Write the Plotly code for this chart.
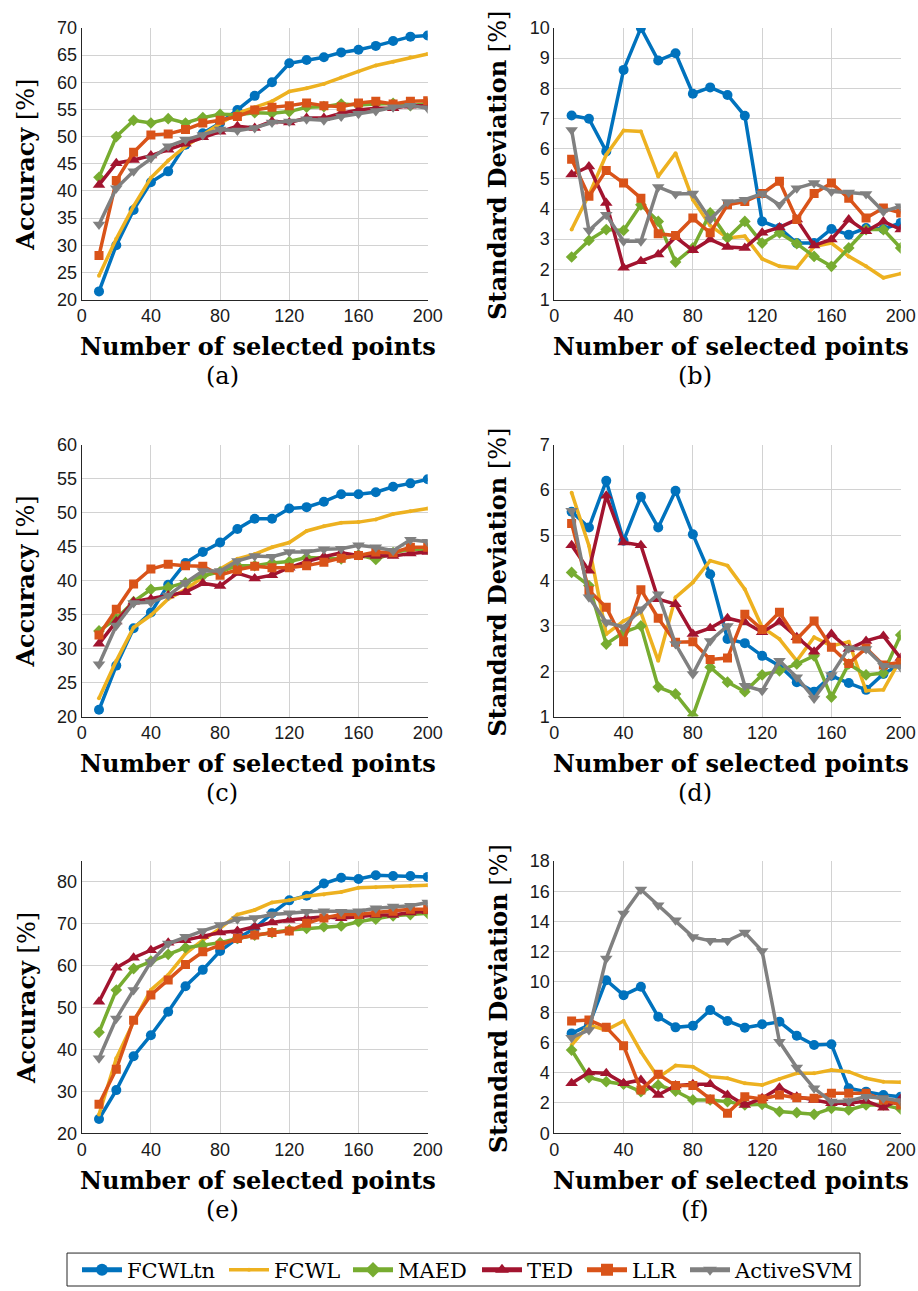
import plotly.graph_objects as go

# ---------------- data ----------------
X_POINTS = [10, 20, 30, 40, 50, 60, 70, 80, 90, 100,
            110, 120, 130, 140, 150, 160, 170, 180, 190, 200]

METHODS = ["FCWLtn", "FCWL", "MAED", "TED", "LLR", "ActiveSVM"]

# (a) accuracy
A_FCWLTN = [21.5, 30.0, 36.5, 41.6, 43.6, 48.5, 50.6, 52.5, 54.9, 57.5, 60.0, 63.5, 64.1, 64.6, 65.5, 66.0, 66.7, 67.6, 68.4, 68.6]
A_FCWL = [24.4, 31.2, 37.2, 42.4, 45.6, 48.2, 50.3, 52.4, 54.3, 55.4, 56.5, 58.3, 58.9, 59.7, 60.9, 62.0, 63.1, 63.8, 64.6, 65.2]
A_MAED = [42.5, 50.0, 53.0, 52.5, 53.3, 52.5, 53.5, 54.1, 54.0, 54.4, 54.3, 54.6, 55.4, 55.5, 56.0, 55.8, 56.0, 56.1, 55.7, 56.1]
A_TED = [41.1, 45.1, 45.7, 46.5, 47.6, 48.7, 49.9, 50.9, 51.9, 51.6, 52.8, 52.6, 53.4, 53.4, 54.3, 54.9, 55.2, 55.2, 55.7, 55.7]
A_LLR = [28.1, 41.9, 47.1, 50.3, 50.5, 51.3, 52.5, 53.0, 53.7, 54.9, 55.4, 55.7, 56.2, 55.7, 55.5, 56.2, 56.5, 56.0, 56.5, 56.6]
A_ASVM = [33.8, 40.5, 43.6, 46.0, 48.2, 49.4, 50.3, 51.3, 51.1, 51.6, 52.6, 52.8, 53.2, 53.0, 53.7, 54.2, 54.7, 55.4, 55.7, 55.2]

# (b) standard deviation
B_FCWLTN = [7.10, 6.99, 5.91, 8.61, 10.0, 8.92, 9.16, 7.82, 8.03, 7.78, 7.09, 3.59, 3.37, 2.87, 2.87, 3.34, 3.15, 3.37, 3.34, 3.54]
B_FCWL = [3.32, 4.47, 5.80, 6.60, 6.57, 5.08, 5.85, 4.31, 3.45, 3.04, 3.10, 2.35, 2.10, 2.05, 2.76, 2.87, 2.43, 2.10, 1.72, 1.86]
B_MAED = [2.41, 2.96, 3.32, 3.29, 4.14, 3.59, 2.24, 2.71, 3.87, 3.04, 3.59, 2.87, 3.21, 2.85, 2.43, 2.10, 2.71, 3.32, 3.32, 2.71]
B_TED = [5.14, 5.41, 4.20, 2.05, 2.27, 2.49, 3.07, 2.63, 2.99, 2.74, 2.71, 3.21, 3.39, 3.65, 2.79, 2.99, 3.65, 3.26, 3.59, 3.32]
B_LLR = [5.65, 4.42, 5.28, 4.86, 4.36, 3.18, 3.12, 3.70, 3.21, 4.14, 4.25, 4.51, 4.92, 3.65, 4.51, 4.86, 4.36, 3.70, 4.03, 3.87]
B_ASVM = [6.62, 3.29, 3.81, 2.93, 2.93, 4.73, 4.50, 4.51, 3.65, 4.23, 4.31, 4.51, 4.14, 4.69, 4.86, 4.58, 4.55, 4.50, 3.92, 4.09]

# (c) accuracy
C_FCWLTN = [21.0, 27.5, 33.0, 35.3, 39.4, 42.6, 44.2, 45.6, 47.6, 49.1, 49.1, 50.6, 50.8, 51.6, 52.7, 52.7, 53.0, 53.8, 54.3, 54.9]
C_FCWL = [22.7, 28.2, 33.1, 34.9, 37.3, 38.7, 40.5, 41.7, 43.2, 43.9, 44.9, 45.6, 47.3, 48.0, 48.5, 48.6, 49.0, 49.8, 50.2, 50.6]
C_MAED = [32.6, 34.4, 36.9, 38.7, 39.0, 39.7, 40.7, 41.3, 42.2, 42.2, 42.6, 42.8, 43.4, 43.3, 43.2, 43.8, 43.1, 44.1, 44.6, 44.6]
C_TED = [30.7, 34.0, 36.9, 37.3, 37.8, 38.3, 39.6, 39.2, 41.1, 40.3, 40.8, 41.9, 42.8, 43.5, 44.1, 43.7, 43.6, 43.6, 44.0, 44.2]
C_LLR = [32.0, 35.8, 39.5, 41.7, 42.4, 42.2, 42.1, 40.8, 41.6, 42.1, 41.9, 41.9, 42.2, 42.7, 43.3, 43.7, 44.2, 44.1, 44.9, 44.9]
C_ASVM = [27.7, 33.4, 36.7, 36.8, 37.8, 39.7, 41.4, 41.4, 42.9, 43.6, 43.5, 44.2, 44.2, 44.6, 44.7, 45.2, 44.9, 44.4, 46.0, 45.7]

# (d) standard deviation
D_FCWLTN = [5.52, 5.17, 6.20, 4.88, 5.85, 5.17, 5.98, 5.02, 4.14, 2.71, 2.62, 2.34, 2.12, 1.76, 1.55, 1.90, 1.74, 1.59, 1.94, 2.16]
D_FCWL = [5.94, 4.77, 2.82, 3.11, 3.30, 2.23, 3.63, 3.96, 4.44, 4.33, 3.81, 2.97, 2.71, 2.23, 2.75, 2.56, 2.65, 1.57, 1.59, 2.27]
D_MAED = [4.18, 3.89, 2.60, 2.86, 3.00, 1.65, 1.50, 1.02, 2.09, 1.76, 1.55, 1.92, 2.01, 2.16, 2.34, 1.43, 2.16, 1.92, 1.96, 2.80]
D_TED = [4.78, 4.22, 5.87, 4.84, 4.78, 3.59, 3.48, 2.82, 2.95, 3.17, 3.08, 2.86, 3.09, 2.75, 2.43, 2.82, 2.49, 2.67, 2.78, 2.29]
D_LLR = [5.26, 3.78, 3.41, 2.65, 3.80, 3.17, 2.64, 2.65, 2.26, 2.29, 3.26, 2.92, 3.30, 2.71, 3.11, 2.53, 2.17, 2.51, 2.14, 2.20]
D_ASVM = [5.54, 3.63, 3.08, 2.97, 3.37, 3.70, 2.60, 1.94, 2.67, 3.00, 1.68, 1.57, 2.23, 1.87, 1.40, 1.92, 2.51, 2.49, 2.12, 2.09]

# (e) accuracy
E_FCWLTN = [23.4, 30.3, 38.4, 43.4, 49.0, 55.1, 59.0, 63.5, 66.5, 68.9, 72.5, 75.6, 76.7, 79.6, 81.0, 80.7, 81.6, 81.4, 81.4, 81.2]
E_FCWL = [24.5, 37.9, 46.6, 54.2, 57.8, 62.9, 66.1, 68.9, 72.2, 73.3, 75.1, 75.6, 76.6, 77.0, 77.6, 78.6, 78.7, 78.8, 79.1, 79.2]
E_MAED = [44.1, 54.2, 59.3, 61.1, 62.7, 64.3, 64.9, 65.5, 66.5, 67.3, 67.9, 68.5, 68.9, 69.3, 69.5, 70.5, 71.1, 71.9, 72.2, 72.5]
E_TED = [51.4, 59.5, 61.9, 63.7, 65.5, 66.1, 67.1, 67.9, 68.3, 69.3, 70.3, 70.9, 71.3, 71.7, 71.3, 71.8, 72.1, 72.1, 72.7, 73.0]
E_LLR = [26.9, 35.3, 47.0, 53.0, 56.6, 60.3, 63.3, 64.9, 66.5, 67.3, 67.9, 68.3, 70.1, 71.4, 72.2, 72.2, 72.7, 73.0, 73.5, 73.5]
E_ASVM = [37.9, 47.4, 54.2, 60.9, 65.3, 66.9, 68.3, 69.7, 71.1, 71.4, 72.2, 72.5, 72.9, 73.0, 72.9, 73.0, 73.7, 74.1, 74.3, 75.1]

# (f) standard deviation
F_FCWLTN = [6.60, 7.15, 10.12, 9.13, 9.68, 7.70, 7.00, 7.11, 8.14, 7.42, 6.98, 7.20, 7.37, 6.45, 5.83, 5.88, 2.97, 2.75, 2.53, 2.42]
F_FCWL = [5.83, 7.15, 6.82, 7.42, 5.39, 3.68, 4.47, 4.40, 3.74, 3.63, 3.30, 3.19, 3.59, 3.96, 3.96, 4.18, 4.07, 3.63, 3.41, 3.37]
F_MAED = [5.50, 3.68, 3.41, 3.24, 2.75, 3.19, 2.79, 2.20, 2.20, 2.09, 1.87, 1.91, 1.43, 1.36, 1.25, 1.65, 1.54, 1.87, 1.87, 1.61]
F_TED = [3.30, 4.01, 3.96, 3.30, 3.52, 2.53, 3.15, 3.24, 3.24, 2.53, 1.87, 2.31, 3.01, 2.42, 2.20, 1.98, 1.98, 2.13, 1.69, 2.27]
F_LLR = [7.42, 7.48, 7.00, 5.79, 2.86, 3.90, 3.15, 3.15, 2.27, 1.32, 2.42, 2.27, 2.53, 2.35, 2.31, 2.64, 2.64, 2.64, 2.20, 1.87]
F_ASVM = [6.32, 6.82, 11.55, 14.52, 16.11, 15.07, 14.08, 12.98, 12.72, 12.72, 13.27, 12.04, 6.05, 4.34, 2.97, 2.09, 2.13, 2.42, 2.31, 2.13]

PANEL_DATA = [
    [A_FCWLTN, A_FCWL, A_MAED, A_TED, A_LLR, A_ASVM],
    [B_FCWLTN, B_FCWL, B_MAED, B_TED, B_LLR, B_ASVM],
    [C_FCWLTN, C_FCWL, C_MAED, C_TED, C_LLR, C_ASVM],
    [D_FCWLTN, D_FCWL, D_MAED, D_TED, D_LLR, D_ASVM],
    [E_FCWLTN, E_FCWL, E_MAED, E_TED, E_LLR, E_ASVM],
    [F_FCWLTN, F_FCWL, F_MAED, F_TED, F_LLR, F_ASVM],
]
CAPTIONS = ["(a)", "(b)", "(c)", "(d)", "(e)", "(f)"]
X_TICKS = [0, 40, 80, 120, 160, 200]
Y_RANGES = [[20, 70], [1, 10], [20, 60], [1, 7], [20, 85], [0, 18]]
Y_DTICKS = [5, 1, 5, 1, 10, 2]

# ---------------- style ----------------
W, H = 918, 1291
COLORS = ["#0072BD", "#EDB120", "#77AC30", "#A2142F", "#D95319", "#808080"]
SYMBOLS = ["circle", "circle", "diamond", "triangle-up", "square", "triangle-down"]
SIZES = [10, 4, 9, 11, 9, 11]
SERIF = "DejaVu Serif"
SANS = "Liberation Sans"

# panel pixel boxes
COL_X = [(81.7, 427.7), (554.3, 900.7)]
ROW_Y = [(28.0, 300.0), (445.3, 717.7), (862.3, 1135.0)]
# legend entry text start pixel (x) and centre row (y)
LEG_TEXT_X = [127, 274, 398, 527, 632, 735]
LEG_Y = 1272


def px(x, y):
    return x / W, 1 - y / H


fig = go.Figure()
layout = {}
annotations = []

for p in range(6):
    r, c = divmod(p, 2)
    xl, xr = COL_X[c]
    yt, yb = ROW_Y[r]
    ax_id = "" if p == 0 else str(p + 1)
    common = dict(showgrid=True, gridcolor="#d2d2d2", gridwidth=1,
                  showline=True, linecolor="#262626", linewidth=1,
                  zeroline=False, ticks="", automargin=False,
                  tickfont=dict(family=SANS, size=18, color="#1a1a1a"))
    layout["xaxis" + ax_id] = dict(domain=[xl / W, xr / W], anchor="y" + ax_id,
                                   range=[0, 200], tickvals=X_TICKS, **common)
    layout["yaxis" + ax_id] = dict(domain=[1 - yb / H, 1 - yt / H], anchor="x" + ax_id,
                                   range=Y_RANGES[p], dtick=Y_DTICKS[p], tick0=0, **common)
    for m in range(6):
        fig.add_trace(go.Scatter(
            x=X_POINTS, y=PANEL_DATA[p][m], name=METHODS[m],
            mode="lines+markers", xaxis="x" + ax_id, yaxis="y" + ax_id,
            line=dict(color=COLORS[m], width=3.5),
            marker=dict(symbol=SYMBOLS[m], size=SIZES[m], color=COLORS[m],
                        line=dict(width=0)),
            showlegend=(p == 0), legendgroup=METHODS[m],
            legend="legend" if m == 0 else "legend" + str(m + 1),
        ))

    cx = (xl + xr) / 2 + 3
    ax_, ay_ = px(cx, yb + 47)
    annotations.append(dict(x=ax_, y=ay_, xref="paper", yref="paper",
                            text="<b>Number of selected points</b>", showarrow=False,
                            font=dict(family=SERIF, size=24, color="black"),
                            xanchor="center", yanchor="middle"))
    capx = 222 if c == 0 else 695
    ax_, ay_ = px(capx, yb + 77)
    annotations.append(dict(x=ax_, y=ay_, xref="paper", yref="paper",
                            text=CAPTIONS[p], showarrow=False,
                            font=dict(family=SERIF, size=24, color="black"),
                            xanchor="center", yanchor="middle"))
    ytxt = "<b>Accuracy</b> [%]" if c == 0 else "<b>Standard Deviation</b> [%]"
    ytx = 26 if c == 0 else 498
    ax_, ay_ = px(ytx, (yt + yb) / 2 + 1)
    annotations.append(dict(x=ax_, y=ay_, xref="paper", yref="paper",
                            text=ytxt, showarrow=False, textangle=-90,
                            font=dict(family=SERIF, size=24, color="black"),
                            xanchor="center", yanchor="middle"))

# one legend per method, so entries sit where the reference puts them
for m in range(6):
    key = "legend" if m == 0 else "legend" + str(m + 1)
    lx, ly = px(LEG_TEXT_X[m] - 50, LEG_Y)
    layout[key] = dict(orientation="h", x=lx, y=ly, xanchor="left", yanchor="middle",
                       borderwidth=0, bgcolor="rgba(0,0,0,0)",
                       font=dict(family=SERIF, size=21, color="black"),
                       itemwidth=40,
                       itemsizing="trace" if m == 1 else "constant")

bx0, by0 = px(67, 1255)
bx1, by1 = px(860, 1288)
layout.update(
    width=W, height=H,
    margin=dict(l=0, r=0, t=0, b=0),
    paper_bgcolor="white", plot_bgcolor="white",
    annotations=annotations,
    shapes=[dict(type="rect", xref="paper", yref="paper", x0=bx0, x1=bx1, y0=by1, y1=by0,
                 line=dict(color="#262626", width=1), fillcolor="rgba(0,0,0,0)")],
)
fig.update_layout(**layout)
fig.write_html(
    "out.html",
    config={"displayModeBar": False},
    post_script="document.body.style.margin='0';document.body.style.overflow='hidden';",
)
